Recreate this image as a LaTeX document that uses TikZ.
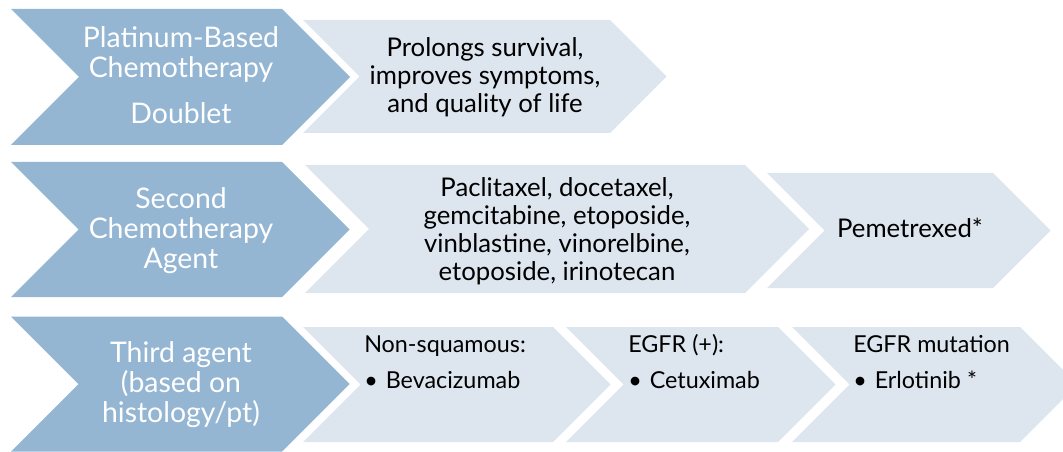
\documentclass[tikz,border=0pt]{standalone}
\usepackage{fontspec}
\setmainfont{Lato}
\usepackage{tikz}
\usetikzlibrary{positioning}

\definecolor{stepdark}{RGB}{148,182,210}
\definecolor{steplight}{RGB}{221,229,238}

\tikzset{
  headbox/.style={fill=stepdark},
  bodybox/.style={fill=steplight},
  headtext/.style={text=white,align=center,font=\fontsize{21.3}{22.5}\selectfont},
  bodytext/.style={text=black,align=center,font=\fontsize{19.3}{21}\selectfont},
  listtext/.style={text=black,anchor=base west,inner sep=0pt,font=\fontsize{17.5}{18}\selectfont}
}

\begin{document}
\begin{tikzpicture}[x=0.75pt,y=-0.75pt]
\useasboundingbox (0,0) rectangle (1063,452);
\clip (0,0) rectangle (1063,452);

% Chevrons: left x / right x / centre y / half height / style
\foreach \xl/\xr/\yc/\h/\kind in {
  11/282/77/68/headbox, 303/610/76.5/56.5/bodybox,
  11/282/229.5/67.5/headbox, 305/745/229/64/bodybox, 767/993/230.5/57.5/bodybox,
  11/282/384/67.5/headbox, 303/553/384.5/57.5/bodybox, 566/778/384.5/57.5/bodybox,
  792/1020/384.5/57.5/bodybox}
  \fill[\kind] (\xl,\yc-\h) -- (\xr,\yc-\h) -- (\xr+\h,\yc) -- (\xr,\yc+\h)
    -- (\xl,\yc+\h) -- (\xl+\h,\yc) -- cycle;

% Row headings
\node[headtext] (platinum) at (181,75) {Platinum-Based\\Chemotherapy\\[12pt]Doublet};
\node[headtext] (second) at (181,231) {Second\\Chemotherapy\\Agent};
\node[headtext] (third) at (181,385) {Third agent\\(based on\\histology/pt)};

% Row contents
\node[bodytext] (benefit) at (485,77) {Prolongs survival,\\improves symptoms,\\and quality of life};
\node[bodytext] (agents) at (557,231) {Paclitaxel, docetaxel,\\gemcitabine, etoposide,\\vinblastine, vinorelbine,\\etoposide, irinotecan};
\node[bodytext] (pemetrexed) at (910,228) {Pemetrexed*};

\foreach \x/\lbl/\drug/\nm in {
  364/Non-squamous:/Bevacizumab/nonsq,
  628/EGFR (+):/Cetuximab/egfr,
  853/EGFR mutation/Erlotinib */mutation} {
  \node[listtext] (\nm) at (\x,352) {\lbl};
  \node[listtext] (\nm-drug) at (\x,388) {\textbullet\hspace{6pt}\drug};
}
\end{tikzpicture}
\end{document}
